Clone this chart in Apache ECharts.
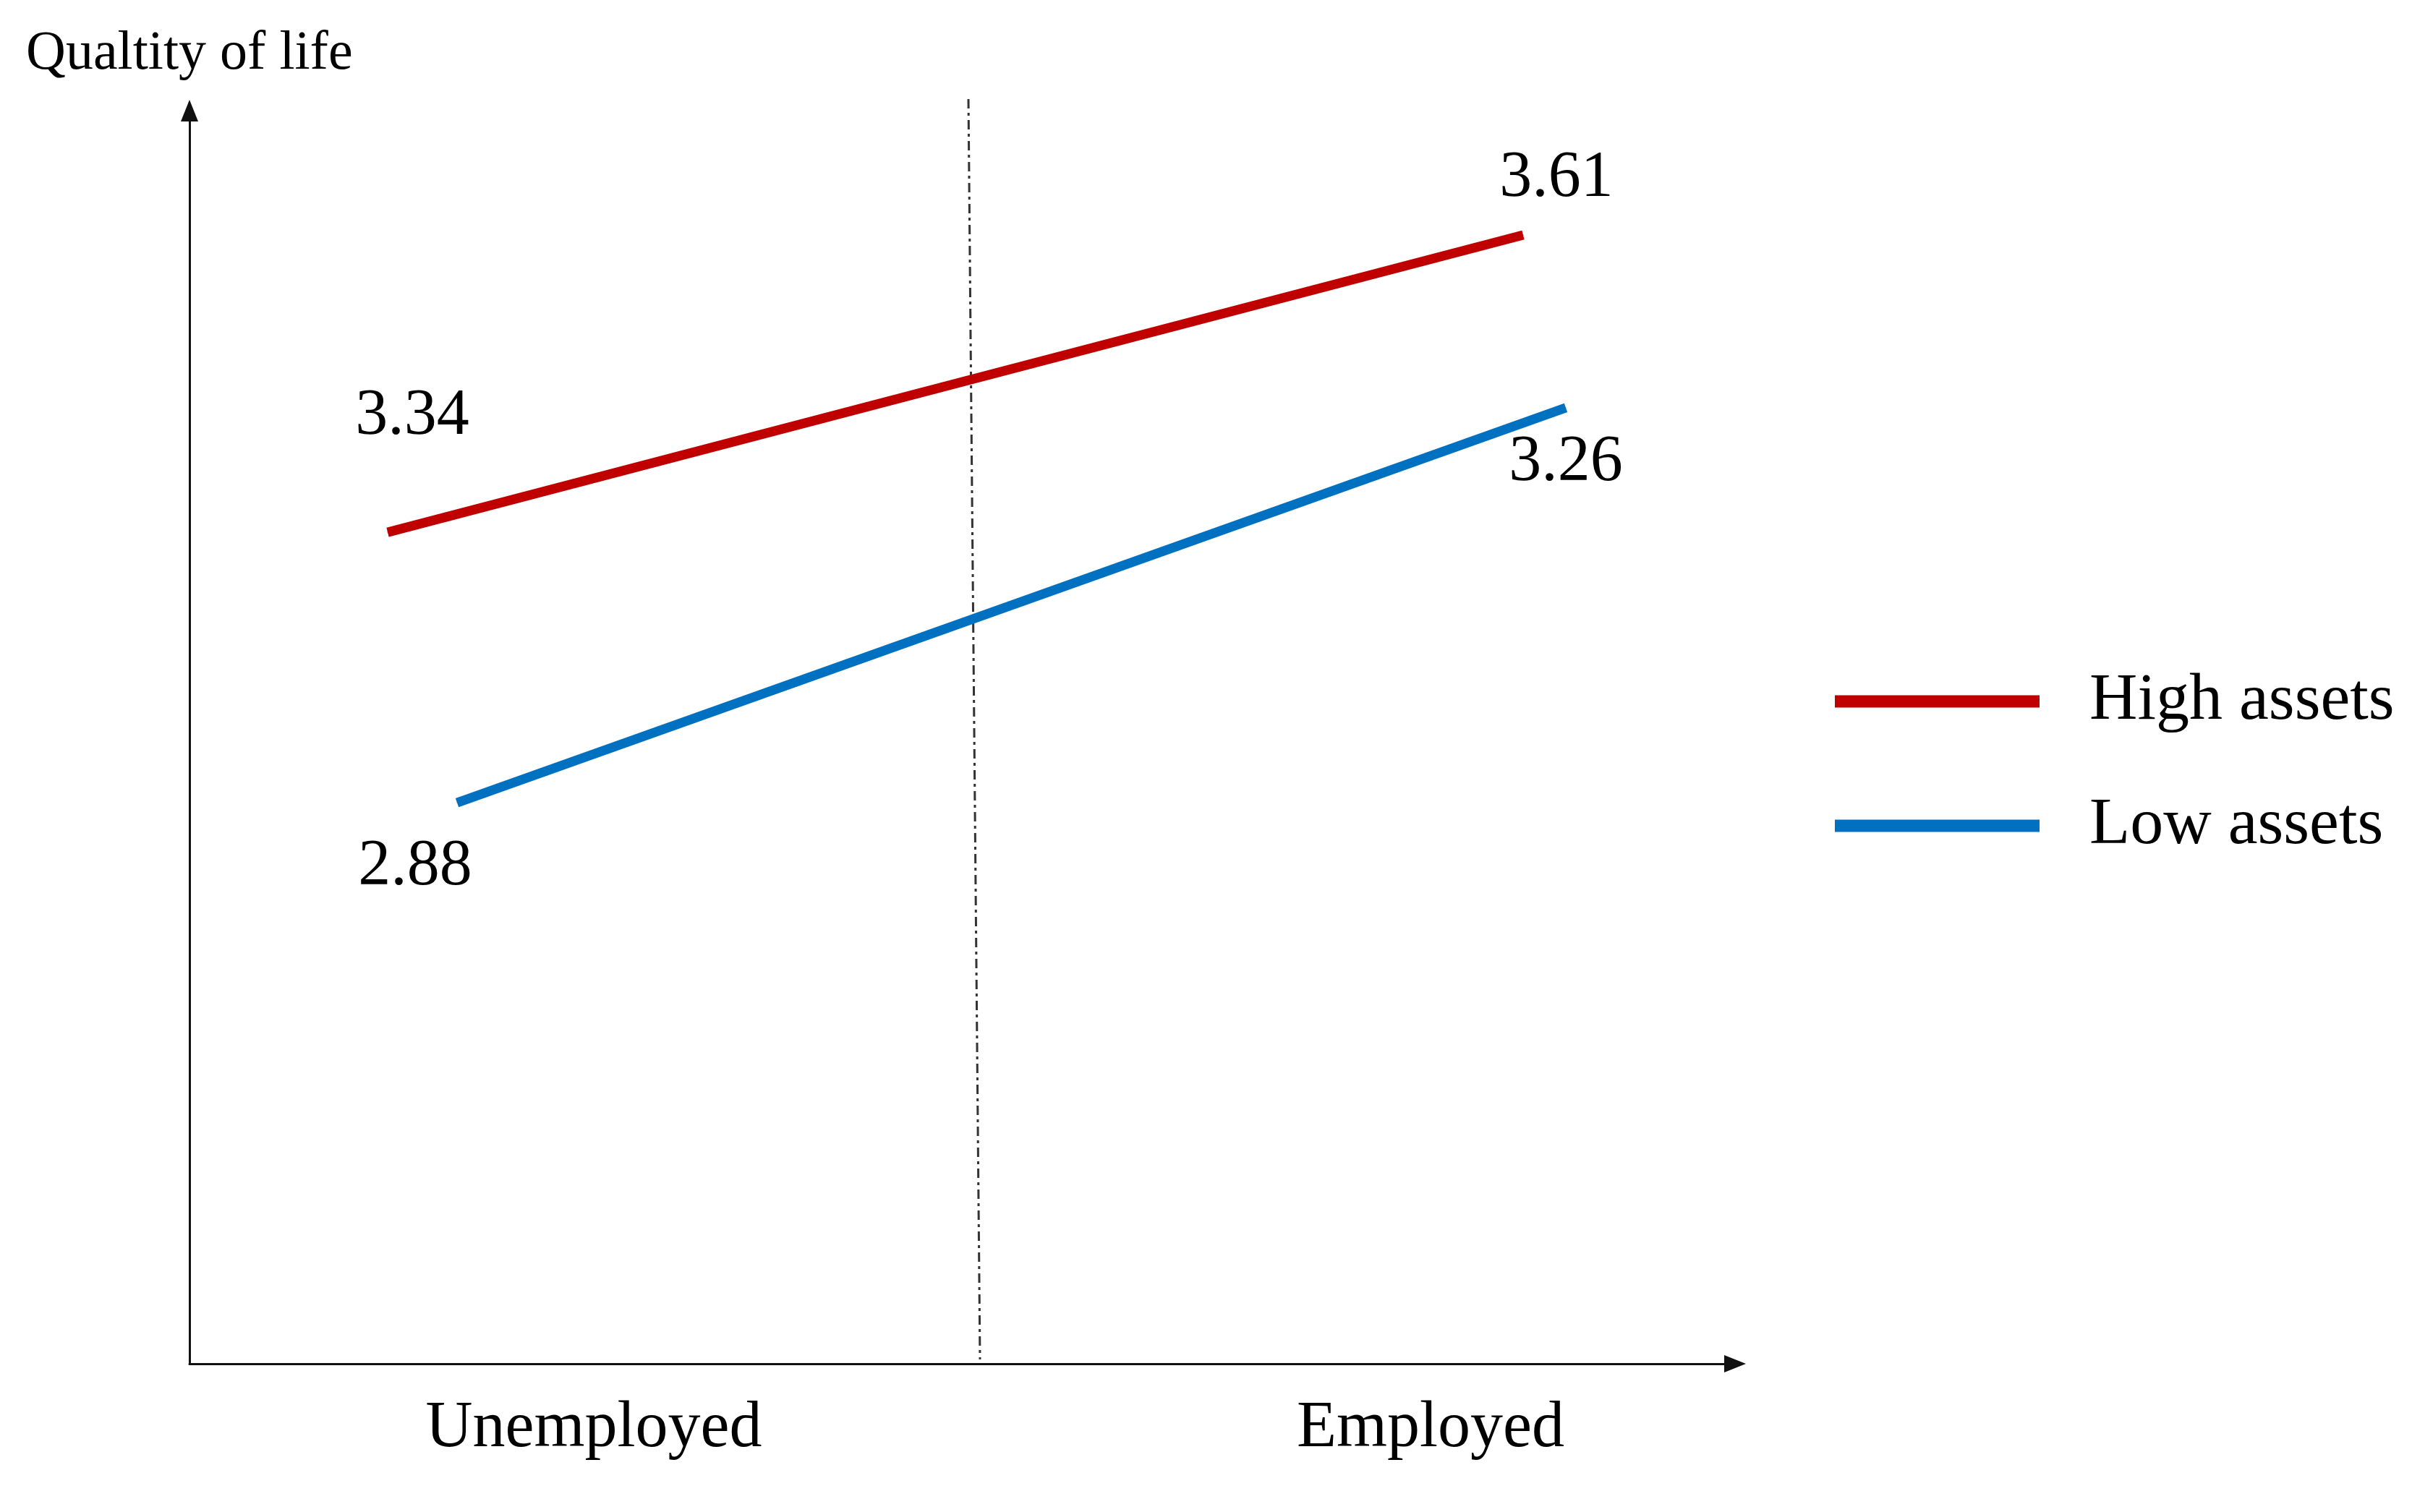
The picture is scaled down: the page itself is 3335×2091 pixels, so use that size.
<!DOCTYPE html>
<html>
<head>
<meta charset="utf-8">
<script src="https://cdn.jsdelivr.net/npm/echarts@6/dist/echarts.min.js"></script>
<style>
html,body{margin:0;padding:0;background:#fff;}
#chart{width:3335px;height:2091px;}
</style>
</head>
<body>
<div id="chart"></div>
<script>
// ---- data ----
const categories = ['Unemployed', 'Employed'];
const seriesNames = ['High assets', 'Low assets'];
const highAssets = [3.34, 3.61];
const lowAssets = [2.88, 3.26];
const yTitle = 'Qualtity of life';

// ---- style / layout ----
const FONT = "'Liberation Serif', 'Times New Roman', serif";
const RED = '#C00000';
const BLUE = '#0070C0';
const AXIS = '#111';
const highLabelOffsets = [[34, -160], [46, -78]];
const lowLabelOffsets = [[-58, 89], [0, 76]];

function seriesData(values, offsets) {
  return values.map((v, i) => ({
    value: v,
    label: { offset: offsets[i] }
  }));
}

const labelStyle = {
  show: true,
  position: 'inside',
  formatter: p => Number(p.value).toFixed(2),
  fontFamily: FONT,
  fontSize: 90,
  lineHeight: 90,
  color: '#000'
};

const chart = echarts.init(document.getElementById('chart'), null, { renderer: 'canvas' });

const option = {
  backgroundColor: '#fff',
  animation: false,
  title: {
    text: yTitle,
    left: 36,
    top: 37,
    padding: 0,
    textStyle: { fontFamily: FONT, fontSize: 76, lineHeight: 76, fontWeight: 'normal', color: '#000' }
  },
  legend: {
    orient: 'vertical',
    left: 2537,
    top: 920,
    padding: 0,
    itemWidth: 283,
    itemHeight: 17,
    itemGap: 72,
    icon: 'rect',
    data: seriesNames,
    textStyle: { fontFamily: FONT, fontSize: 92, lineHeight: 100, color: '#000', padding: [0, 0, 0, 64] }
  },
  grid: [
    // 0: high assets line
    { left: 536, right: 1229, top: 188, bottom: 1294 },
    // 1: low assets line
    { left: 632, right: 1170, top: 506.5, bottom: 866 },
    // 2: visible axes
    { left: 262, right: 936, top: 153, bottom: 205 },
    // 3: category labels
    { left: 821, right: 1357, top: 1500, bottom: 205 }
  ],
  xAxis: [
    { gridIndex: 0, type: 'category', data: categories, boundaryGap: false, show: false },
    { gridIndex: 1, type: 'category', data: categories, boundaryGap: false, show: false },
    { gridIndex: 2, type: 'value', min: 0, max: 1,
      axisLine: { show: true, onZero: false, symbol: ['none', 'triangle'], symbolSize: [24, 30], lineStyle: { color: AXIS, width: 3 } },
      axisTick: { show: false }, axisLabel: { show: false }, splitLine: { show: false } },
    { gridIndex: 3, type: 'category', data: categories, boundaryGap: false,
      axisLine: { show: false }, axisTick: { show: false }, splitLine: { show: false },
      axisLabel: { show: true, interval: 0, margin: 45, fontFamily: FONT, fontSize: 90, lineHeight: 90, color: '#000' } }
  ],
  yAxis: [
    { gridIndex: 0, type: 'value', min: 3.3, max: 3.7, show: false },
    { gridIndex: 1, type: 'value', min: 2.8, max: 3.3, show: false },
    { gridIndex: 2, type: 'value', min: 0, max: 1,
      axisLine: { show: true, onZero: false, symbol: ['none', 'triangle'], symbolSize: [24, 30], lineStyle: { color: AXIS, width: 3 } },
      axisTick: { show: false }, axisLabel: { show: false }, splitLine: { show: false } },
    { gridIndex: 3, type: 'value', show: false }
  ],
  series: [
    {
      name: seriesNames[0], type: 'line', xAxisIndex: 0, yAxisIndex: 0,
      data: seriesData(highAssets, highLabelOffsets),
      symbol: 'circle', symbolSize: 1, showSymbol: true,
      lineStyle: { color: RED, width: 13, cap: 'butt' },
      itemStyle: { color: RED },
      label: labelStyle
    },
    {
      name: seriesNames[1], type: 'line', xAxisIndex: 1, yAxisIndex: 1,
      data: seriesData(lowAssets, lowLabelOffsets),
      symbol: 'circle', symbolSize: 1, showSymbol: true,
      lineStyle: { color: BLUE, width: 13, cap: 'butt' },
      itemStyle: { color: BLUE },
      label: labelStyle
    }
  ],
  graphic: [
    {
      type: 'line',
      shape: { x1: 1339, y1: 137, x2: 1355, y2: 1880 },
      style: { stroke: '#333', lineWidth: 3, lineDash: [13, 6, 4, 6] },
      silent: true
    }
  ]
};

chart.setOption(option);
</script>
</body>
</html>
